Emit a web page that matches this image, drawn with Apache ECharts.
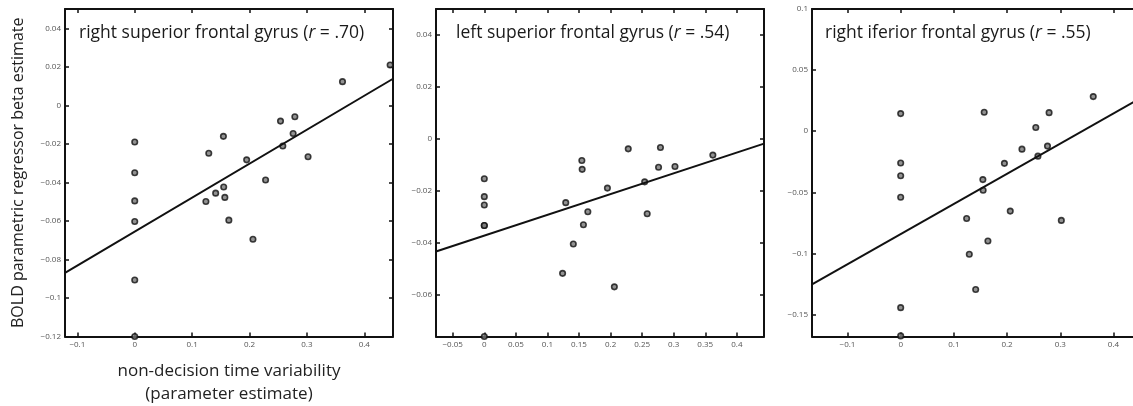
<!DOCTYPE html>
<html>
<head>
<meta charset="utf-8">
<script src="https://cdn.jsdelivr.net/npm/echarts@6/dist/echarts.min.js"></script>
<style>
  html, body { margin: 0; padding: 0; background: #fff; }
  #chart { width: 1133px; height: 406px; }
</style>
</head>
<body>
<div id="chart"></div>
<script>
// non-decision time variability (same subjects in every panel)
const ndtVar = [0, 0, 0, 0, 0, 0, 0.124, 0.129, 0.141, 0.1545, 0.155, 0.157, 0.164,
  0.195, 0.206, 0.228, 0.254, 0.258, 0.276, 0.279, 0.302, 0.362, 0.445];

// beta estimates per region, same order as ndtVar
const rsfgBeta = [-0.019, -0.035, -0.0496, -0.0603, -0.0907, -0.12, -0.0499, -0.0249, -0.0456,
  -0.0161, -0.0424, -0.0478, -0.0596, -0.0283, -0.0695, -0.0388, -0.0082, -0.0211, -0.0146,
  -0.0059, -0.0267, 0.0123, 0.0209];
const lsfgBeta = [-0.0153, -0.0222, -0.0254, -0.0333, -0.0333, -0.076, -0.0517, -0.0245, -0.0404,
  -0.0083, -0.0117, -0.033, -0.028, -0.0189, -0.0569, -0.0038, -0.0165, -0.0288, -0.0109,
  -0.0033, -0.0106, -0.0062, 0.0008];
const rifgBeta = [0.0144, -0.026, -0.0364, -0.054, -0.1444, -0.1675, -0.0714, -0.1007, -0.1295,
  -0.0396, -0.0483, 0.0155, -0.0898, -0.0263, -0.0654, -0.0147, 0.003, -0.0204, -0.0122,
  0.0152, -0.073, 0.0283, 0.03];

// fitted regression lines (end points)
const rsfgFit = [[-0.1215, -0.087], [0.45, 0.0138]];
const lsfgFit = [[-0.0765, -0.0433], [0.443, -0.0018]];
const rifgFit = [[-0.1667, -0.1254], [0.445, 0.0257]];

const panelTitles = [
  'right superior frontal gyrus ({i|r} = .70)',
  'left superior frontal gyrus ({i|r} = .54)',
  'right iferior frontal gyrus ({i|r} = .55)',
];

// tick values
const xTicks1 = [-0.1, 0, 0.1, 0.2, 0.3, 0.4];
const xTicks2 = [-0.05, 0, 0.05, 0.1, 0.15, 0.2, 0.25, 0.3, 0.35, 0.4];
const xTicks3 = [-0.1, 0, 0.1, 0.2, 0.3, 0.4];
const yTicks1 = [-0.12, -0.1, -0.08, -0.06, -0.04, -0.02, 0, 0.02, 0.04];
const yTicks2 = [-0.06, -0.04, -0.02, 0, 0.02, 0.04];
const yTicks3 = [-0.15, -0.1, -0.05, 0, 0.05, 0.1];

const xRanges = [[-0.1215, 0.45], [-0.0765, 0.443], [-0.1667, 0.445]];
const yRanges = [[-0.12, 0.05], [-0.076, 0.05], [-0.168, 0.1]];

const FONT = 'Open Sans';

function fmt(v) {
  return (v < 0 ? '\u2212' : '') + Math.abs(v);
}

function pairs(xs, ys) {
  return xs.map((x, i) => [x, ys[i]]);
}

const grids = [
  { left: 65, right: 740, top: 9, bottom: 69.5, outerBoundsMode: 'none' },
  { left: 436, right: 369, top: 9, bottom: 69.5, outerBoundsMode: 'none' },
  { left: 812, right: -4.4, top: 9, bottom: 69.5, outerBoundsMode: 'none' },
];

const xTickSets = [xTicks1, xTicks2, xTicks3];
const yTickSets = [yTicks1, yTicks2, yTicks3];

function tickStyle(values) {
  return { inside: true, length: 4, customValues: values, lineStyle: { color: '#111', width: 1.5 } };
}

const xAxes = [];
const yAxes = [];
grids.forEach((g, i) => {
  const common = {
    type: 'value',
    gridIndex: i,
    splitLine: { show: false },
    axisLine: { onZero: false, lineStyle: { color: '#111', width: 2 } },
  };
  xAxes.push({
    ...common,
    position: 'bottom',
    min: xRanges[i][0],
    max: xRanges[i][1],
    axisTick: tickStyle(xTickSets[i]),
    axisLabel: { customValues: xTickSets[i], formatter: fmt, fontSize: 8, color: '#555', fontFamily: FONT, margin: 4 },
  });
  xAxes.push({
    ...common,
    position: 'top',
    min: xRanges[i][0],
    max: xRanges[i][1],
    axisTick: tickStyle(xTickSets[i]),
    axisLabel: { show: false },
  });
  yAxes.push({
    ...common,
    position: 'left',
    min: yRanges[i][0],
    max: yRanges[i][1],
    axisTick: tickStyle(yTickSets[i]),
    axisLabel: { customValues: yTickSets[i], formatter: fmt, fontSize: 8, color: '#555', fontFamily: FONT, margin: 4 },
  });
  yAxes.push({
    ...common,
    position: 'right',
    min: yRanges[i][0],
    max: yRanges[i][1],
    axisTick: tickStyle(yTickSets[i]),
    axisLabel: { show: false },
  });
});

// axis names on the first panel only
xAxes[0].name = 'non-decision time variability\n(parameter estimate)';
xAxes[0].nameLocation = 'middle';
xAxes[0].nameGap = 23;
xAxes[0].nameTextStyle = { fontSize: 17, color: '#222', fontFamily: FONT, lineHeight: 23 };
yAxes[0].name = 'BOLD parametric regressor beta estimate';
yAxes[0].nameLocation = 'middle';
yAxes[0].nameGap = 39;
yAxes[0].nameTextStyle = { fontSize: 16, color: '#222', fontFamily: FONT };

const betaSets = [rsfgBeta, lsfgBeta, rifgBeta];
const fitSets = [rsfgFit, lsfgFit, rifgFit];
const series = [];
betaSets.forEach((ys, i) => {
  series.push({
    type: 'scatter',
    xAxisIndex: i * 2,
    yAxisIndex: i * 2,
    data: pairs(ndtVar, ys),
    symbol: 'circle',
    symbolSize: 5.5,
    itemStyle: { color: '#777', borderColor: '#111', borderWidth: 1.6 },
    silent: true,
    z: 3,
  });
  series.push({
    type: 'line',
    xAxisIndex: i * 2,
    yAxisIndex: i * 2,
    data: fitSets[i],
    symbol: 'none',
    lineStyle: { color: '#111', width: 2 },
    silent: true,
    z: 4,
  });
});

const titleLefts = [79, 456, 825];
const titles = panelTitles.map((t, i) => ({
  text: t,
  left: titleLefts[i],
  top: 24,
  padding: 0,
  textStyle: {
    fontSize: 17.5,
    fontWeight: 'normal',
    color: '#1a1a1a',
    fontFamily: FONT,
    rich: {
      i: { fontStyle: 'italic', fontSize: 17.5, color: '#1a1a1a', fontFamily: FONT },
    },
  },
}));

const myChart = echarts.init(document.getElementById('chart'), null, { renderer: 'canvas' });
myChart.setOption({
  animation: false,
  backgroundColor: '#fff',
  title: titles,
  grid: grids,
  xAxis: xAxes,
  yAxis: yAxes,
  series,
});
</script>
</body>
</html>
